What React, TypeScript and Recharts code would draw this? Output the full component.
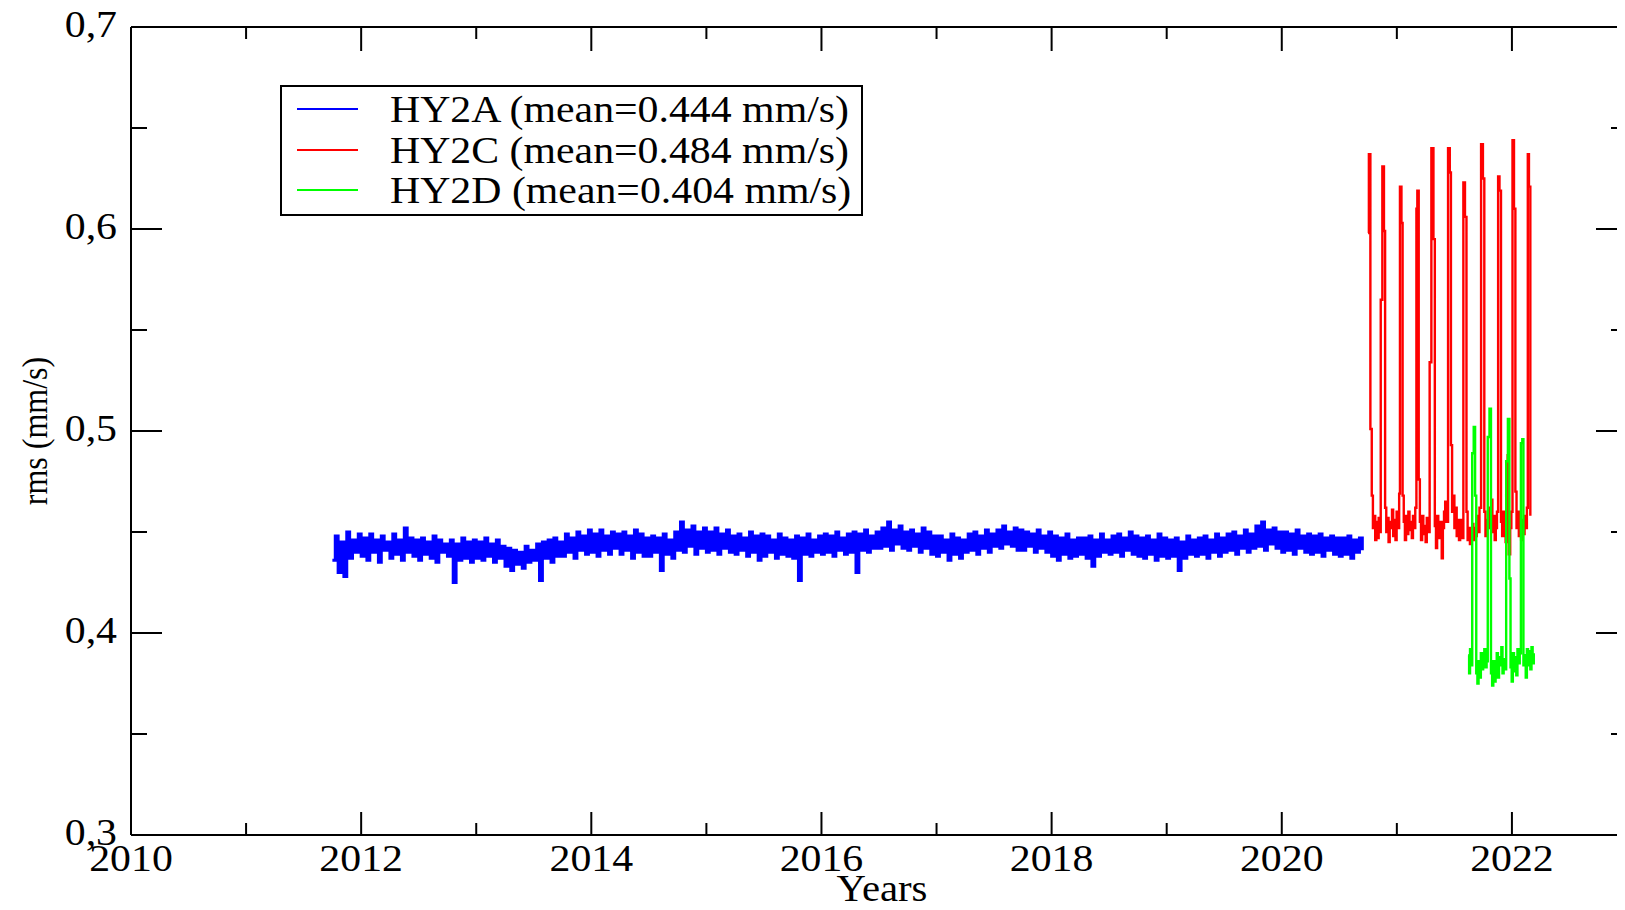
import { LineChart, Line, XAxis, YAxis, Legend } from "recharts";

const FONT = '"Liberation Serif", "Times New Roman", serif';

const seriesNames = ["HY2A (mean=0.444 mm/s)", "HY2C (mean=0.484 mm/s)", "HY2D (mean=0.404 mm/s)"];
const seriesColors = ["#0000ff", "#ff0000", "#00ff00"];
const seriesWidths = [3, 2.4, 2.4];

const yearTicks = [2010, 2011, 2012, 2013, 2014, 2015, 2016, 2017, 2018, 2019, 2020, 2021, 2022, 2023];
const yearLabels = [2010, 2012, 2014, 2016, 2018, 2020, 2022];
const rmsTicks = [0.3, 0.35, 0.4, 0.45, 0.5, 0.55, 0.6, 0.65, 0.7];
const rmsMajor = [0.3, 0.4, 0.5, 0.6, 0.7];
const rmsLabels = ["0,3", "0,4", "0,5", "0,6", "0,7"];

// HY2A: one value every 0.025 yr starting at 2011.75
const hy2aStart = 2011.75;
const hy2aStep = 0.025;
const hy2aRms = [
  .436, .448, .430, .445, .428, .450, .437, .446, .440, .449,
  .438, .447, .436, .449, .440, .446, .435, .448, .441, .445,
  .437, .449, .439, .446, .436, .452, .440, .447, .438, .446,
  .436, .447, .439, .445, .437, .448, .435, .446, .440, .444,
  .438, .446, .425, .444, .436, .447, .437, .445, .435, .446,
  .437, .445, .436, .447, .438, .444, .435, .446, .437, .443,
  .433, .442, .431, .441, .434, .440, .432, .443, .435, .441,
  .436, .444, .426, .445, .437, .446, .435, .447, .438, .445,
  .438, .449, .440, .447, .437, .450, .441, .448, .439, .451,
  .440, .449, .438, .451, .441, .448, .439, .450, .442, .449,
  .439, .450, .441, .448, .437, .451, .440, .449, .438, .447,
  .438, .448, .440, .447, .431, .449, .439, .446, .437, .450,
  .441, .455, .440, .451, .443, .453, .439, .450, .442, .452,
  .440, .450, .441, .452, .439, .449, .442, .451, .440, .448,
  .439, .449, .441, .447, .438, .450, .440, .448, .436, .449,
  .438, .448, .440, .446, .437, .449, .439, .447, .438, .446,
  .437, .448, .426, .447, .439, .449, .438, .446, .440, .448,
  .439, .449, .440, .448, .438, .450, .441, .447, .439, .449,
  .440, .450, .430, .449, .441, .451, .440, .448, .442, .450,
  .442, .452, .443, .455, .441, .451, .444, .453, .442, .450,
  .441, .451, .443, .449, .440, .452, .442, .450, .439, .448,
  .438, .448, .440, .446, .436, .449, .439, .447, .437, .446,
  .440, .449, .441, .450, .439, .448, .442, .451, .440, .449,
  .443, .451, .442, .453, .444, .450, .443, .452, .441, .451,
  .441, .450, .443, .449, .440, .451, .442, .448, .440, .450,
  .438, .448, .436, .447, .439, .449, .437, .446, .438, .447,
  .439, .447, .437, .448, .433, .446, .438, .449, .440, .446,
  .439, .448, .440, .449, .438, .447, .441, .450, .439, .448,
  .438, .447, .437, .448, .439, .446, .436, .449, .438, .447,
  .437, .446, .438, .447, .431, .445, .437, .448, .439, .446,
  .438, .447, .439, .448, .437, .446, .440, .449, .438, .447,
  .440, .449, .441, .450, .439, .448, .442, .451, .440, .449,
  .442, .453, .443, .455, .441, .451, .444, .452, .442, .450,
  .440, .450, .441, .449, .439, .451, .442, .448, .440, .449,
  .439, .448, .440, .449, .438, .447, .441, .448, .439, .447,
  .438, .447, .439, .448, .437, .446, .440, .447, .441,
];

const hy2cTime = [
  2020.750, 2020.757, 2020.770, 2020.782, 2020.792, 2020.802, 2020.812, 2020.822, 2020.832, 2020.842,
  2020.852, 2020.860, 2020.874, 2020.888, 2020.898, 2020.908, 2020.918, 2020.928, 2020.938, 2020.948,
  2020.958, 2020.968, 2020.978, 2020.988, 2020.998, 2021.010, 2021.020, 2021.027, 2021.040, 2021.050,
  2021.060, 2021.070, 2021.080, 2021.090, 2021.100, 2021.110, 2021.120, 2021.130, 2021.140, 2021.150,
  2021.160, 2021.170, 2021.178, 2021.190, 2021.200, 2021.210, 2021.220, 2021.230, 2021.240, 2021.250,
  2021.260, 2021.270, 2021.285, 2021.300, 2021.318, 2021.330, 2021.340, 2021.350, 2021.360, 2021.370,
  2021.380, 2021.390, 2021.400, 2021.410, 2021.420, 2021.430, 2021.445, 2021.460, 2021.470, 2021.480,
  2021.490, 2021.500, 2021.510, 2021.520, 2021.530, 2021.540, 2021.550, 2021.560, 2021.578, 2021.592,
  2021.605, 2021.615, 2021.625, 2021.635, 2021.645, 2021.655, 2021.665, 2021.675, 2021.685, 2021.695,
  2021.705, 2021.718, 2021.732, 2021.748, 2021.760, 2021.770, 2021.780, 2021.790, 2021.800, 2021.810,
  2021.820, 2021.830, 2021.840, 2021.850, 2021.860, 2021.870, 2021.880, 2021.892, 2021.905, 2021.915,
  2021.925, 2021.935, 2021.945, 2021.955, 2021.963, 2021.972, 2021.985, 2021.995, 2022.005, 2022.018,
  2022.030, 2022.040, 2022.050, 2022.060, 2022.070, 2022.080, 2022.090, 2022.100, 2022.110, 2022.120,
  2022.130, 2022.138, 2022.148, 2022.160,
];
const hy2cRms = [
  .598, .637, .501, .468, .452, .458, .446, .455, .447, .457,
  .450, .565, .631, .599, .462, .450, .457, .445, .455, .452,
  .461, .448, .456, .446, .460, .452, .469, .621, .603, .468,
  .455, .446, .458, .449, .460, .451, .455, .447, .458, .452,
  .462, .610, .619, .476, .455, .446, .458, .449, .453, .445,
  .457, .450, .534, .640, .595, .453, .442, .458, .448, .447,
  .455, .437, .452, .460, .465, .455, .640, .628, .493, .460,
  .468, .452, .462, .448, .456, .446, .456, .447, .623, .606,
  .460, .446, .452, .444, .448, .454, .446, .452, .448, .458,
  .450, .462, .642, .625, .460, .448, .456, .452, .462, .455,
  .466, .450, .458, .446, .452, .460, .626, .619, .455, .448,
  .460, .452, .445, .458, .488, .439, .452, .460, .644, .610,
  .470, .452, .460, .448, .455, .446, .456, .449, .458, .452,
  .462, .637, .621, .458,
];

const hy2dTime = [
  2021.620, 2021.628, 2021.636, 2021.645, 2021.655, 2021.668, 2021.680, 2021.690, 2021.700, 2021.710,
  2021.720, 2021.730, 2021.740, 2021.750, 2021.760, 2021.770, 2021.780, 2021.790, 2021.805, 2021.818,
  2021.828, 2021.838, 2021.848, 2021.858, 2021.868, 2021.878, 2021.888, 2021.898, 2021.908, 2021.918,
  2021.928, 2021.938, 2021.950, 2021.965, 2021.978, 2021.988, 2021.998, 2022.008, 2022.018, 2022.028,
  2022.038, 2022.048, 2022.058, 2022.068, 2022.078, 2022.090, 2022.100, 2022.110, 2022.120, 2022.130,
  2022.140, 2022.150, 2022.160, 2022.170, 2022.180, 2022.190,
];
const hy2dRms = [
  .389, .380, .392, .384, .489, .502, .468, .380, .375, .386,
  .378, .390, .382, .388, .392, .383, .386, .497, .511, .380,
  .374, .386, .376, .382, .390, .378, .388, .384, .393, .380,
  .387, .382, .485, .506, .427, .383, .376, .390, .381, .388,
  .379, .392, .385, .390, .494, .496, .384, .389, .378, .392,
  .384, .391, .382, .393, .385, .390,
];

const hy2a = hy2aRms.map((v, i) => ({ t: Number((hy2aStart + i * hy2aStep).toFixed(3)), v }));
const hy2c = hy2cTime.map((t, i) => ({ t, v: hy2cRms[i] }));
const hy2d = hy2dTime.map((t, i) => ({ t, v: hy2dRms[i] }));
const seriesData = [hy2a, hy2c, hy2d];

const majorRmsIndex = (v: number) => rmsMajor.findIndex((m) => Math.abs(m - v) < 1e-6);

const BottomTick = (props: any) => {
  const { x, y, payload } = props;
  const major = yearLabels.includes(payload.value);
  return (
    <g>
      <line x1={x} x2={x} y1={y} y2={y - (major ? 23 : 12)} stroke="#000" strokeWidth={2} />
      {major && (
        <text transform={`translate(${x},${y + 36}) scale(1.1,1)`} textAnchor="middle" fontSize={38} fontFamily={FONT} fill="#000">
          {payload.value}
        </text>
      )}
    </g>
  );
};

const TopTick = (props: any) => {
  const { x, y, payload } = props;
  const major = yearLabels.includes(payload.value);
  return <line x1={x} x2={x} y1={y} y2={y + (major ? 24 : 12)} stroke="#000" strokeWidth={2} />;
};

const LeftTick = (props: any) => {
  const { x, y, payload } = props;
  const idx = majorRmsIndex(payload.value);
  return (
    <g>
      <line x1={x} x2={x + (idx >= 0 ? 31 : 16)} y1={y} y2={y} stroke="#000" strokeWidth={2} />
      {idx >= 0 && (
        <text transform={`translate(${x - 14},${y + 10}) scale(1.1,1)`} textAnchor="end" fontSize={38} fontFamily={FONT} fill="#000">
          {rmsLabels[idx]}
        </text>
      )}
    </g>
  );
};

const RightTick = (props: any) => {
  const { x, y, payload } = props;
  const major = majorRmsIndex(payload.value) >= 0;
  return <line x1={x} x2={x - (major ? 31 : 16)} y1={y} y2={y} stroke="#000" strokeWidth={2} />;
};

const XTitle = () => (
  <text transform="translate(882,901) scale(1.1,1)" textAnchor="middle" fontSize={37} fontFamily={FONT} fill="#000">
    Years
  </text>
);

const YTitle = () => (
  <text transform="translate(35,431) rotate(-90) scale(1,1.1)" textAnchor="middle" dy="0.35em" fontSize={32} fontFamily={FONT} fill="#000">
    rms (mm/s)
  </text>
);

const LegendBox = ({ payload }: any) => (
  <div
    style={{
      position: "relative",
      width: 583,
      height: 131,
      border: "2px solid #000",
      boxSizing: "border-box",
      background: "#fff",
      fontFamily: FONT,
    }}
  >
    {(payload || []).map((item: any, i: number) => (
      <div key={item.value}>
        <div style={{ position: "absolute", left: 15, top: 21 + i * 40.5, width: 61, height: 2, background: item.color }} />
        <span
          style={{
            position: "absolute",
            left: 108,
            top: 3 + i * 40.5,
            fontSize: 38,
            lineHeight: "38px",
            whiteSpace: "nowrap",
            color: "#000",
            transform: "scaleX(1.1)",
            transformOrigin: "left center",
          }}
        >
          {item.value}
        </span>
      </div>
    ))}
  </div>
);

export default function App() {
  return (
    <div style={{ margin: -8, width: 1625, height: 910, overflow: "hidden", background: "#fff" }}>
      <LineChart width={1650} height={910} margin={{ top: 0, right: 0, bottom: 0, left: 0 }}>
        <XAxis
          xAxisId="b"
          dataKey="t"
          type="number"
          domain={[2010, 2023]}
          allowDataOverflow
          ticks={yearTicks}
          interval={0}
          height={75}
          tickSize={0}
          tickMargin={0}
          tickLine={false}
          axisLine={{ stroke: "#000", strokeWidth: 2 }}
          tick={<BottomTick />}
          label={<XTitle />}
        />
        <XAxis
          xAxisId="top"
          orientation="top"
          dataKey="t"
          type="number"
          domain={[2010, 2023]}
          allowDataOverflow
          ticks={yearTicks}
          interval={0}
          height={27}
          tickSize={0}
          tickMargin={0}
          tickLine={false}
          axisLine={{ stroke: "#000", strokeWidth: 2 }}
          tick={<TopTick />}
        />
        <YAxis
          yAxisId="l"
          type="number"
          domain={[0.3, 0.7]}
          allowDataOverflow
          ticks={rmsTicks}
          interval={0}
          width={131}
          tickSize={0}
          tickMargin={0}
          tickLine={false}
          axisLine={{ stroke: "#000", strokeWidth: 2 }}
          tick={<LeftTick />}
          label={<YTitle />}
        />
        <YAxis
          yAxisId="r"
          orientation="right"
          type="number"
          domain={[0.3, 0.7]}
          allowDataOverflow
          ticks={rmsTicks}
          interval={0}
          width={23}
          tickSize={0}
          tickMargin={0}
          tickLine={false}
          axisLine={{ stroke: "#000", strokeWidth: 2 }}
          tick={<RightTick />}
        />
        <Legend
          layout="vertical"
          align="center"
          verticalAlign="middle"
          wrapperStyle={{ top: 85, left: 280, width: 583, height: 131 }}
          content={(p: any) => <LegendBox payload={p.payload} />}
        />
        {seriesData.map((d, i) => (
          <Line
            key={seriesNames[i]}
            xAxisId="b"
            yAxisId="l"
            data={d}
            dataKey="v"
            name={seriesNames[i]}
            type="stepAfter"
            stroke={seriesColors[i]}
            strokeWidth={seriesWidths[i]}
            dot={false}
            activeDot={false}
            isAnimationActive={false}
          />
        ))}
      </LineChart>
    </div>
  );
}
